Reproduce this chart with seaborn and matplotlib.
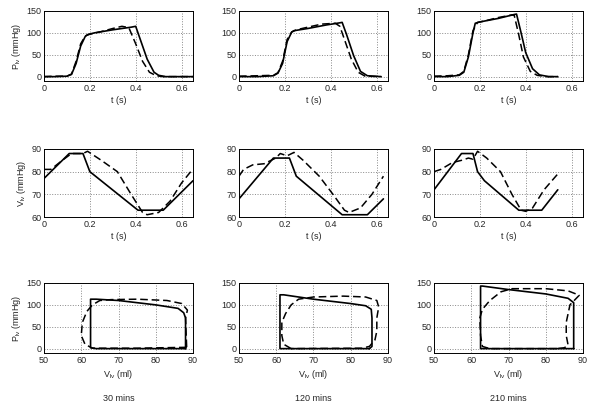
import numpy as np
import pandas as pd
import matplotlib
matplotlib.use('Agg')
import matplotlib.pyplot as plt
import seaborn as sns

# ---- data ----
# pressure vs time (top row), solid = model, dashed = measured
t_p30 = [0, 0.05, 0.10, 0.12, 0.14, 0.16, 0.18, 0.19, 0.22, 0.30, 0.38, 0.40, 0.42, 0.45, 0.48, 0.50, 0.53, 0.65]
p_p30 = [0, 0, 1, 5, 30, 70, 92, 96, 100, 107, 113, 115, 85, 40, 10, 3, 0, 0]
t_p30d = [0, 0.05, 0.10, 0.12, 0.14, 0.16, 0.18, 0.20, 0.25, 0.30, 0.34, 0.37, 0.40, 0.43, 0.46, 0.49, 0.52, 0.65]
p_p30d = [0, 1, 1, 6, 35, 75, 93, 97, 103, 110, 115, 112, 75, 35, 10, 2, 0, 0]

t_p120 = [0, 0.08, 0.15, 0.17, 0.19, 0.21, 0.23, 0.24, 0.30, 0.38, 0.44, 0.45, 0.47, 0.50, 0.53, 0.56, 0.62]
p_p120 = [0, 0, 2, 8, 30, 80, 102, 105, 110, 118, 123, 124, 95, 48, 12, 2, 0]
t_p120d = [0, 0.08, 0.15, 0.17, 0.19, 0.21, 0.23, 0.25, 0.30, 0.36, 0.42, 0.44, 0.46, 0.49, 0.52, 0.55, 0.62]
p_p120d = [1, 2, 3, 9, 35, 85, 102, 107, 113, 120, 122, 115, 85, 40, 10, 1, 0]

t_p210 = [0, 0.06, 0.11, 0.13, 0.15, 0.17, 0.18, 0.20, 0.28, 0.35, 0.36, 0.38, 0.40, 0.43, 0.46, 0.50, 0.54]
p_p210 = [0, 0, 3, 10, 45, 100, 122, 125, 133, 142, 143, 100, 55, 18, 4, 0, 0]
t_p210d = [0, 0.06, 0.11, 0.13, 0.15, 0.17, 0.19, 0.22, 0.28, 0.34, 0.35, 0.37, 0.39, 0.42, 0.45, 0.49, 0.54]
p_p210d = [1, 2, 4, 12, 50, 105, 124, 127, 135, 141, 140, 95, 45, 12, 3, 0, 0]

# volume vs time (middle row)
t_v30 = [0, 0.11, 0.17, 0.20, 0.41, 0.52, 0.65]
v_v30 = [77, 88, 88, 80, 63, 63, 76]
t_v30d = [0, 0.03, 0.08, 0.12, 0.17, 0.19, 0.25, 0.32, 0.38, 0.43, 0.45, 0.50, 0.55, 0.60, 0.64, 0.65]
v_v30d = [81, 81, 85, 88, 88, 89, 85, 80, 70, 62, 61, 62, 67, 75, 80, 80.5]

t_v120 = [0, 0.15, 0.22, 0.25, 0.45, 0.56, 0.63]
v_v120 = [68, 86, 86, 78, 61, 61, 68]
t_v120d = [0, 0.02, 0.06, 0.11, 0.14, 0.16, 0.18, 0.21, 0.24, 0.28, 0.35, 0.41, 0.46, 0.48, 0.53, 0.58, 0.63]
v_v120d = [78, 81, 83, 83.5, 85, 86, 88, 87, 88.5, 85, 78, 70, 63, 62, 64, 70, 78]

t_v210 = [0, 0.12, 0.17, 0.19, 0.22, 0.37, 0.47, 0.54]
v_v210 = [72, 88, 88, 80, 76, 63, 63, 72]
t_v210d = [0, 0.03, 0.08, 0.12, 0.15, 0.17, 0.19, 0.23, 0.29, 0.34, 0.38, 0.40, 0.43, 0.48, 0.54]
v_v210d = [80, 81, 84, 85, 86, 85.5, 89, 86, 80, 70, 63, 62.5, 64, 72, 79]

# pressure-volume loops (bottom row)
pv_v30 = [88, 64, 62.5, 62.5, 64, 70, 80, 86, 87.5, 88, 88]
pv_p30 = [0, 0, 2, 113, 113, 110, 100, 92, 82, 70, 0]
pv_v30d = [88.3, 75, 63, 61, 60, 60.3, 61.5, 63, 65, 68, 75, 83, 87, 88.5, 88, 88.3]
pv_p30d = [3, 1, 1, 10, 30, 60, 85, 100, 110, 112, 113, 110, 103, 88, 70, 3]

pv_v120 = [85, 61, 61, 62, 70, 80, 84, 85.5, 85.7, 85.7, 85]
pv_p120 = [0, 0, 123, 123, 113, 103, 98, 90, 70, 5, 0]
pv_v120d = [64, 62, 61.5, 61.5, 62.5, 64, 66, 70, 78, 84, 87, 87.5, 87, 87, 86.5, 85, 83, 64]
pv_p120d = [0, 10, 30, 60, 80, 100, 113, 118, 120, 118, 110, 95, 70, 40, 20, 5, 1, 0]

pv_v210 = [87.5, 62.5, 62.5, 63, 70, 80, 86, 87.5, 87.5]
pv_p210 = [0, 0, 143, 143, 135, 125, 115, 105, 0]
pv_v210d = [83, 65, 63, 62.5, 62.3, 63, 65, 68, 71, 80, 86, 89, 86.5, 85.5, 85.5, 86, 85, 83]
pv_p210d = [0, 0, 5, 30, 70, 90, 110, 130, 137, 137, 132, 122, 100, 60, 30, 8, 2, 0]

col_titles = ['30 mins', '120 mins', '210 mins']

sns.set_style('white')
plt.rcParams['font.family'] = ['Liberation Sans', 'DejaVu Sans']
plt.rcParams['mathtext.fontset'] = 'custom'
plt.rcParams['mathtext.rm'] = 'Liberation Sans'
plt.rcParams['mathtext.it'] = 'Liberation Sans'
fs = 6.5


def draw(ax, x, y, xd, yd):
    df = pd.DataFrame({'x': x, 'y': y})
    dfd = pd.DataFrame({'x': xd, 'y': yd})
    sns.lineplot(data=df, x='x', y='y', ax=ax, color='black', lw=1.2, sort=False, estimator=None)
    sns.lineplot(data=dfd, x='x', y='y', ax=ax, color='black', lw=1.1, sort=False, estimator=None,
                 linestyle=(0, (5, 2.5)))
    ax.grid(True, linestyle=':', color='#888888', lw=0.7)
    ax.tick_params(labelsize=fs, length=2, direction='in', pad=2)
    for s in ax.spines.values():
        s.set_linewidth(0.7)
        s.set_color('black')
    ax.set_xlabel('')
    ax.set_ylabel('')


fig = plt.figure(figsize=(6, 4.11), dpi=100)
lefts = [44 / 600, 239 / 600, 434 / 600]
w = 149 / 600
rows = [(1 - 81 / 411, 70 / 411), (1 - 217 / 411, 68 / 411), (1 - 353 / 411, 70 / 411)]

pdata = [(t_p30, p_p30, t_p30d, p_p30d), (t_p120, p_p120, t_p120d, p_p120d), (t_p210, p_p210, t_p210d, p_p210d)]
vdata = [(t_v30, v_v30, t_v30d, v_v30d), (t_v120, v_v120, t_v120d, v_v120d), (t_v210, v_v210, t_v210d, v_v210d)]
pvdata = [(pv_v30, pv_p30, pv_v30d, pv_p30d), (pv_v120, pv_p120, pv_v120d, pv_p120d), (pv_v210, pv_p210, pv_v210d, pv_p210d)]

for j in range(3):
    # pressure
    ax = fig.add_axes([lefts[j], rows[0][0], w, rows[0][1]])
    draw(ax, *pdata[j])
    ax.set_xlim(0, 0.65)
    ax.set_ylim(-10, 150)
    ax.set_xticks([0, 0.2, 0.4, 0.6])
    ax.set_xticklabels(['0', '0.2', '0.4', '0.6'])
    ax.set_yticks([0, 50, 100, 150])
    ax.set_xlabel('t (s)', fontsize=fs, labelpad=2)
    if j == 0:
        ax.set_ylabel(r'P$_{\rm lv}$ (mmHg)', fontsize=fs, labelpad=2)

    # volume
    ax = fig.add_axes([lefts[j], rows[1][0], w, rows[1][1]])
    draw(ax, *vdata[j])
    ax.set_xlim(0, 0.65)
    ax.set_ylim(60, 90)
    ax.set_xticks([0, 0.2, 0.4, 0.6])
    ax.set_xticklabels(['0', '0.2', '0.4', '0.6'])
    ax.set_yticks([60, 70, 80, 90])
    ax.set_xlabel('t (s)', fontsize=fs, labelpad=2)
    if j == 0:
        ax.set_ylabel(r'V$_{\rm lv}$ (mmHg)', fontsize=fs, labelpad=2)

    # PV loop
    ax = fig.add_axes([lefts[j], rows[2][0], w, rows[2][1]])
    draw(ax, *pvdata[j])
    ax.set_xlim(50, 90)
    ax.set_ylim(-10, 150)
    ax.set_xticks([50, 60, 70, 80, 90])
    ax.set_yticks([0, 50, 100, 150])
    ax.set_xlabel(r'V$_{\rm lv}$ (ml)', fontsize=fs, labelpad=2)
    if j == 0:
        ax.set_ylabel(r'P$_{\rm lv}$ (mmHg)', fontsize=fs, labelpad=2)

    fig.text(lefts[j] + w / 2, 1 - 398 / 411, col_titles[j], ha='center', va='center', fontsize=fs)

fig.savefig('out.png', dpi=100)
